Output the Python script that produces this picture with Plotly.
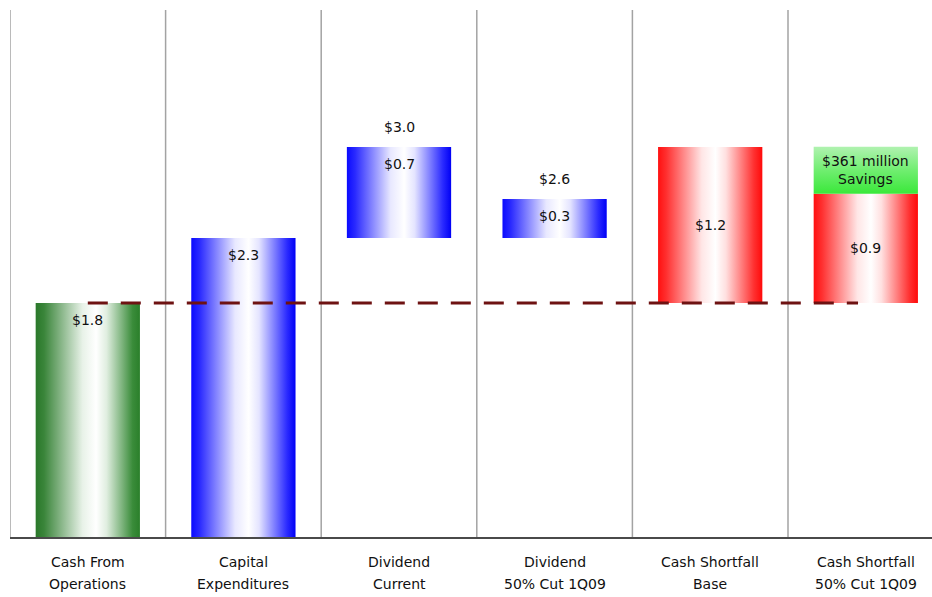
import plotly.graph_objects as go

# ---- data ----
label_line1 = ["Cash From", "Capital", "Dividend", "Dividend", "Cash Shortfall", "Cash Shortfall"]
label_line2 = ["Operations", "Expenditures", "Current", "50% Cut 1Q09", "Base", "50% Cut 1Q09"]
bar_base = [0.0, 0.0, 2.3, 2.3, 1.8, 1.8]
bar_top = [1.8, 2.3, 3.0, 2.6, 3.0, 2.64]
bar_color = ["green", "blue", "blue", "blue", "red", "red"]
inner_labels = ["$1.8", "$2.3", "$0.7", "$0.3", "$1.2", "$0.9"]
inner_pos = ["top", "top", "top", "top", "middle", "middle"]
total_labels = [None, None, "$3.0", "$2.6", None, None]
savings_value = 0.361
savings_text = "$361 million<br>Savings"
cash_from_ops = 1.8

PX_PER_UNIT = 130.0
HALF_W = 0.335
FONT = "DejaVu Sans"

scales = {
    "green": [[0, "#2a782a"], [0.08, "#3a853a"], [0.45, "#e8f2e8"], [0.58, "#ffffff"],
              [0.68, "#e0eee0"], [0.93, "#3a8c3a"], [1, "#2a7f2a"]],
    "blue": [[0, "#0a0aff"], [0.08, "#2a2aff"], [0.42, "#e8e8ff"], [0.55, "#ffffff"],
             [0.65, "#e4e4ff"], [0.92, "#2a2aff"], [1, "#0000f5"]],
    "red": [[0, "#ff1010"], [0.08, "#ff3030"], [0.42, "#ffe6e6"], [0.55, "#ffffff"],
            [0.65, "#ffe0e0"], [0.92, "#ff3030"], [1, "#ff0a0a"]],
}

fig = go.Figure()

def rect(i, lo, hi, grad):
    fig.add_trace(go.Scatter(
        x=[i - HALF_W, i + HALF_W, i + HALF_W, i - HALF_W, i - HALF_W],
        y=[lo, lo, hi, hi, lo],
        mode="lines", fill="toself", line=dict(width=0),
        fillgradient=grad, hoverinfo="skip", showlegend=False,
    ))

for i in range(len(bar_top)):
    rect(i, bar_base[i], bar_top[i],
         dict(type="horizontal", colorscale=scales[bar_color[i]]))

# savings segment on last bar
last = len(bar_top) - 1
sav_lo = bar_top[last]
sav_hi = bar_top[last] + savings_value
rect(last, sav_lo, sav_hi,
     dict(type="vertical", colorscale=[[0, "#3ae83a"], [0.5, "#70ee70"], [1, "#b0f2b0"]]))

# dashed reference line (cash from operations)
fig.add_trace(go.Scatter(
    x=[0, last - 0.05], y=[cash_from_ops, cash_from_ops], mode="lines",
    line=dict(color="#6e1212", width=3, dash="20px,13px"),
    hoverinfo="skip", showlegend=False,
))

ann = []
for i, t in enumerate(inner_labels):
    if inner_pos[i] == "top":
        y, ys = bar_top[i], -17
    else:
        y, ys = (bar_base[i] + bar_top[i]) / 2, 0
    ann.append(dict(x=i, y=y, yshift=ys, text=t, showarrow=False, xref="x", yref="y",
                    yanchor="middle", font=dict(family=FONT, size=14, color="#111111")))
for i, t in enumerate(total_labels):
    if t:
        ann.append(dict(x=i, y=bar_top[i], yshift=20, text=t, showarrow=False, xref="x", yref="y",
                        yanchor="middle", font=dict(family=FONT, size=14, color="#111111")))
ann.append(dict(x=last, y=(sav_lo + sav_hi) / 2, text=savings_text, showarrow=False,
                xref="x", yref="y", yanchor="middle",
                font=dict(family=FONT, size=14, color="#111111")))
for i in range(len(label_line1)):
    ann.append(dict(x=i, y=0, yshift=-25, text=label_line1[i], showarrow=False, xref="x",
                    yref="paper", yanchor="middle", font=dict(family=FONT, size=14, color="#111111")))
    ann.append(dict(x=i, y=0, yshift=-47, text=label_line2[i], showarrow=False, xref="x",
                    yref="paper", yanchor="middle", font=dict(family=FONT, size=14, color="#111111")))

shapes = []
for k in range(len(bar_top)):
    shapes.append(dict(type="line", xref="x", yref="paper", x0=k - 0.5, x1=k - 0.5, y0=0, y1=1,
                       line=dict(color="#a3a3a3", width=1.5), layer="below"))

W, H = 932, 597
mt, mb, ml, mr = 10, 60, 10, 0
plot_h = H - mt - mb
plot_w = W - ml - mr
cat_px = 155.6
x_max = -0.5 + plot_w / cat_px

fig.update_layout(
    width=W, height=H,
    margin=dict(t=mt, b=mb, l=ml, r=mr),
    paper_bgcolor="white", plot_bgcolor="white",
    xaxis=dict(range=[-0.5, x_max], showgrid=False, zeroline=False, showticklabels=False,
               ticks="", showline=True, linecolor="#4a4a4a", linewidth=2, fixedrange=True),
    yaxis=dict(range=[0, plot_h / PX_PER_UNIT], showgrid=False, zeroline=False,
               showticklabels=False, ticks="", showline=False, fixedrange=True),
    annotations=ann, shapes=shapes, showlegend=False,
)

fig.write_html("out.html", config={"displayModeBar": False})
